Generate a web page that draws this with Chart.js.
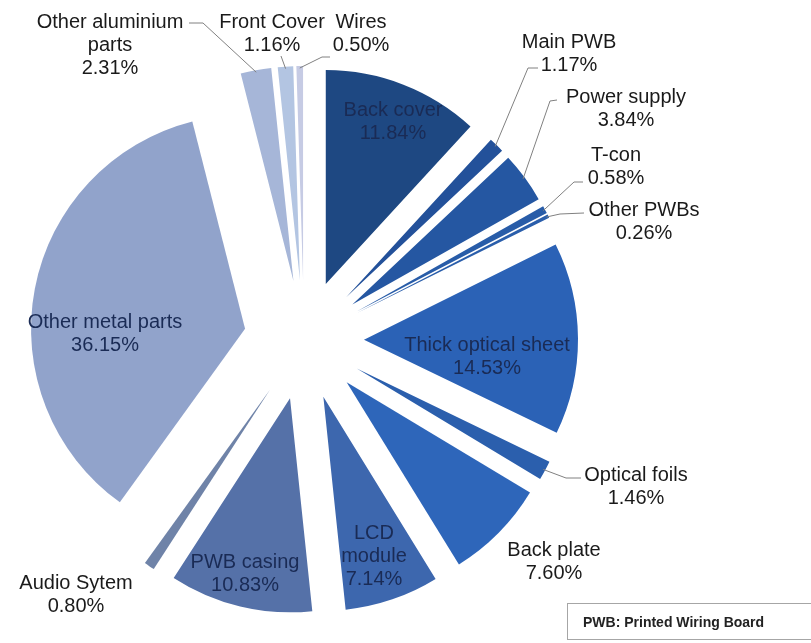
<!DOCTYPE html>
<html>
<head>
<meta charset="utf-8">
<script src="https://cdn.jsdelivr.net/npm/chart.js@4.4.1/dist/chart.umd.min.js"></script>
<style>
  html, body { margin: 0; padding: 0; background: #fff; }
</style>
</head>
<body>
<canvas id="chart" width="811" height="643"></canvas>
<script>
// Data (clockwise from 12 o'clock)
const categories = [
  'Back cover', 'Main PWB', 'Power supply', 'T-con', 'Other PWBs',
  'Thick optical sheet', 'Optical foils', 'Back plate', 'LCD\nmodule', 'PWB casing',
  'Audio Sytem', 'Other metal parts', 'Other aluminium\nparts', 'Front Cover', 'Wires'
];
const shares = [11.84, 1.17, 3.84, 0.58, 0.26, 14.53, 1.46, 7.60, 7.14, 10.83, 0.80, 36.15, 2.31, 1.16, 0.50];
const footnote = 'PWB: Printed Wiring Board';

// Styles
const sliceColors = [
  '#1e4882', '#23519a', '#2557a2', '#285ca8', '#2a5eab',
  '#2b62b6', '#2b5fad', '#2e66ba', '#3d67ae', '#5571a8',
  '#6f83a8', '#91a3cb', '#a6b6d8', '#b3c5e2', '#c6cbe4'
];
const EXPLODE = 60;

// label placement: centre of first text line, optional leader line points
const labelSpots = [
  { at: [393, 110], inside: true },
  { at: [569, 42], lead: [[538, 68], [528, 68]] },
  { at: [626, 97], lead: [[557, 100], [550, 101]] },
  { at: [616, 155], lead: [[583, 182], [574, 182]] },
  { at: [644, 210], lead: [[584, 213], [560, 214]] },
  { at: [487, 345], inside: true },
  { at: [636, 475], lead: [[581, 478], [566, 478]] },
  { at: [554, 550] },
  { at: [374, 533], inside: true },
  { at: [245, 562], inside: true },
  { at: [76, 583] },
  { at: [105, 322], inside: true },
  { at: [110, 22], lead: [[189, 23], [203, 23]] },
  { at: [272, 22], lead: [[281, 56]] },
  { at: [361, 22], lead: [[330, 57], [322, 57]] }
];

// Draw each slice pulled out along its bisector
const explodePlugin = {
  id: 'explode',
  beforeDatasetsDraw(chart) {
    const ctx = chart.ctx;
    chart.getDatasetMeta(0).data.forEach(arc => {
      const mid = (arc.startAngle + arc.endAngle) / 2;
      ctx.save();
      ctx.translate(Math.cos(mid) * EXPLODE, Math.sin(mid) * EXPLODE);
      arc.draw(ctx);
      ctx.restore();
    });
    return false;
  }
};

// Slice labels, leader lines and footnote box
const labelPlugin = {
  id: 'sliceLabels',
  afterDraw(chart) {
    const ctx = chart.ctx;
    const arcs = chart.getDatasetMeta(0).data;
    ctx.save();
    arcs.forEach((arc, i) => {
      const spot = labelSpots[i];
      if (spot.lead) {
        const mid = (arc.startAngle + arc.endAngle) / 2;
        const r = EXPLODE + arc.outerRadius - 2;
        ctx.beginPath();
        ctx.strokeStyle = '#808080';
        ctx.lineWidth = 1;
        ctx.moveTo(spot.lead[0][0], spot.lead[0][1]);
        spot.lead.slice(1).forEach(p => ctx.lineTo(p[0], p[1]));
        ctx.lineTo(arc.x + Math.cos(mid) * r, arc.y + Math.sin(mid) * r);
        ctx.stroke();
      }
      const lines = categories[i].split('\n').concat(shares[i].toFixed(2) + '%');
      ctx.font = '20px "Liberation Sans", Arial, sans-serif';
      ctx.textAlign = 'center';
      ctx.textBaseline = 'middle';
      ctx.fillStyle = spot.inside ? '#1a2b55' : '#1a1a1a';
      lines.forEach((t, k) => ctx.fillText(t, spot.at[0], spot.at[1] + k * 23));
    });

    ctx.strokeStyle = '#a6a6a6';
    ctx.lineWidth = 1;
    ctx.strokeRect(567.5, 603.5, 260, 36);
    ctx.font = 'bold 14px "Liberation Sans", Arial, sans-serif';
    ctx.textAlign = 'left';
    ctx.fillStyle = '#222';
    ctx.fillText(footnote, 583, 623);
    ctx.restore();
  }
};

new Chart(document.getElementById('chart'), {
  type: 'pie',
  data: {
    labels: categories.map(c => c.replace('\n', ' ')),
    datasets: [{
      data: shares,
      backgroundColor: sliceColors,
      borderWidth: 0
    }]
  },
  options: {
    responsive: false,
    animation: false,
    devicePixelRatio: 1,
    radius: 214,
    layout: { padding: { left: 0, right: 203, top: 37, bottom: 0 } },
    plugins: {
      legend: { display: false },
      tooltip: { enabled: false }
    }
  },
  plugins: [explodePlugin, labelPlugin]
});
</script>
</body>
</html>
